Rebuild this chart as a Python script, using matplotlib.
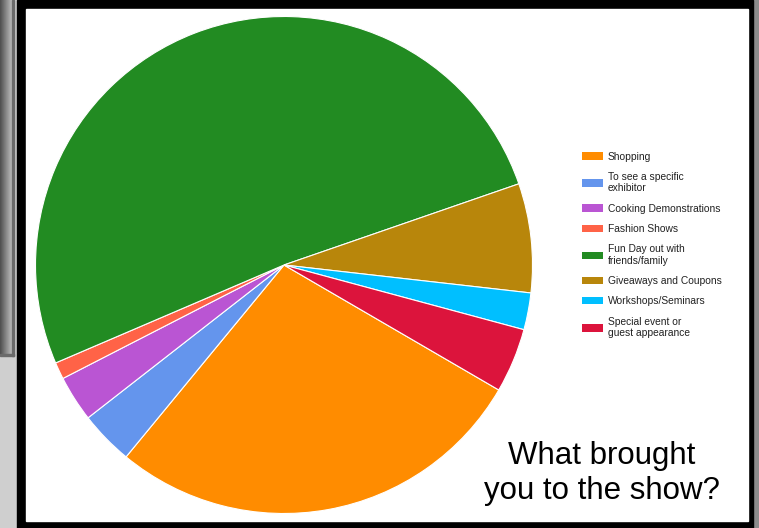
import numpy as np
import matplotlib
matplotlib.use("Agg")
from matplotlib import pyplot as plt
from matplotlib.patches import Rectangle
from matplotlib.colors import LinearSegmentedColormap

plt.rcParams['font.family'] = ['Liberation Sans', 'DejaVu Sans']

labels = [
    "Shopping",
    "To see a specific\nexhibitor",
    "Cooking Demonstrations",
    "Fashion Shows",
    "Fun Day out with\nfriends/family",
    "Giveaways and Coupons",
    "Workshops/Seminars",
    "Special event or\nguest appearance",
]
shares = [27.6, 3.5, 3.0, 1.1, 51.2, 7.1, 2.4, 4.2]
colors = ["#FF8C00", "#6495ED", "#BA55D3", "#FF6347",
          "#228B22", "#B8860B", "#00BFFF", "#DC143C"]

W, H = 759, 528
fig = plt.figure(figsize=(W / 100, H / 100), dpi=100)
fig.patch.set_facecolor("#cfcfcf")

# backdrop: slide edge, black frame, white card
bg = fig.add_axes([0, 0, 1, 1])
bg.set_xlim(0, W)
bg.set_ylim(H, 0)
bg.axis("off")
edge_cmap = LinearSegmentedColormap.from_list("edge", ["#4e4e4e", "#8a8a8a", "#c6c6c6"])
grad = np.linspace(0, 1, 64)[None, :]
bg.imshow(grad, cmap=edge_cmap, extent=[0, 13, 356, 0], aspect="auto", zorder=1)
bg.add_patch(Rectangle((12, 0), 1.5, 356, color="#6a6a6a", zorder=2))
bg.add_patch(Rectangle((0, 354), 13.5, 2, color="#6a6a6a", zorder=2))
bg.add_patch(Rectangle((753, 0), 6, H, color="#8c8c8c", zorder=1))
bg.add_patch(Rectangle((17, 0), 736, H, color="black", zorder=3))
bg.add_patch(Rectangle((26, 9), 722, 512, color="white", zorder=4))

# pie centred at (284, 265) px, radius ~248 px
cx, cy, r = 284, 265, 250
ax = fig.add_axes([(cx - r) / W, (H - cy - r) / H, 2 * r / W, 2 * r / H])
wedges, _ = ax.pie(shares, colors=colors, startangle=-30.2, counterclock=False,
                   radius=0.994,
                   wedgeprops=dict(edgecolor="white", linewidth=0.8))
ax.set_xlim(-1, 1)
ax.set_ylim(-1, 1)
ax.axis("off")

swatches = [Rectangle((0, 0), 1, 1, facecolor=c, edgecolor="none") for c in colors]
fig.legend(swatches, labels, loc="upper left",
           bbox_to_anchor=(582 / W, (H - 151.5) / H),
           frameon=False, fontsize=7.4, borderpad=0, borderaxespad=0,
           handlelength=2.04, handleheight=0.72, handletextpad=0.46,
           labelspacing=1.0, labelcolor="#222222")

fig.text(602 / W, (H - 499) / H, "What brought\nyou to the show?",
         ha="center", va="baseline", fontsize=22.5, linespacing=1.2,
         color="black")

fig.savefig("out.png", dpi=100)
